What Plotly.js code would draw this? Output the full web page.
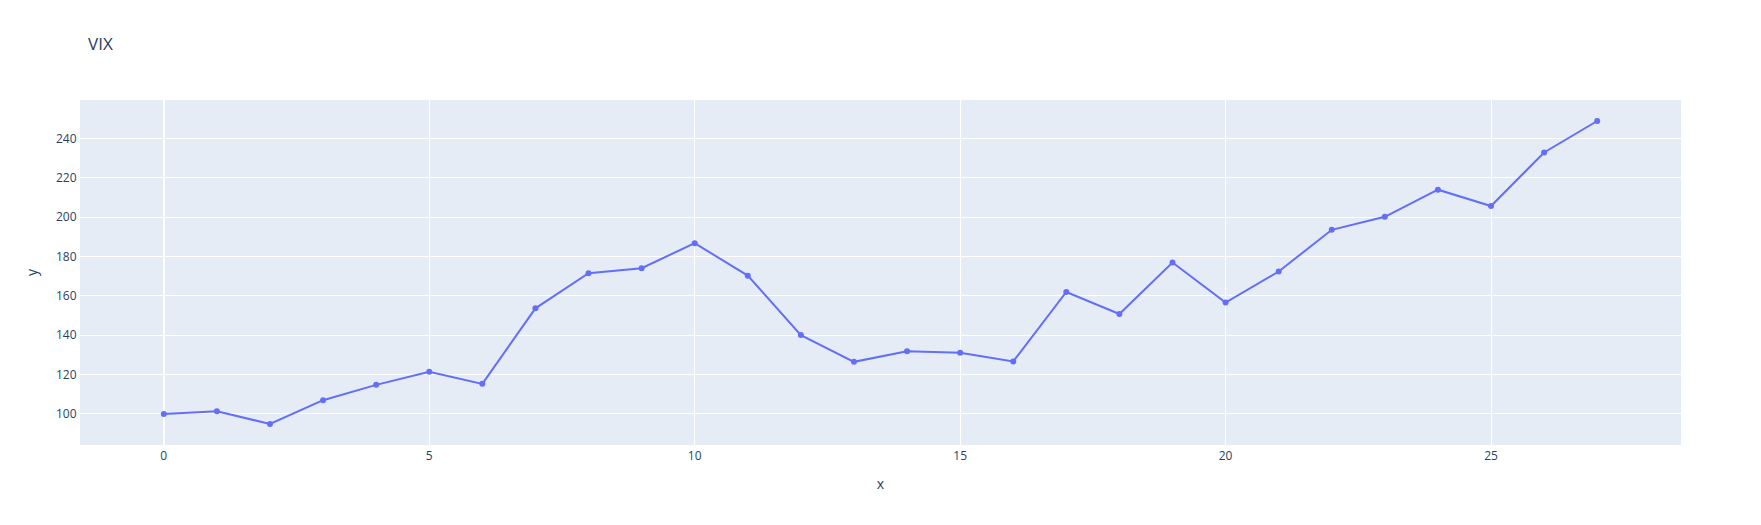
<!DOCTYPE html>
<html>
<head>
<meta charset="utf-8">
<script src="https://cdn.plot.ly/plotly-3.0.1.min.js"></script>
<style>html,body{margin:0;padding:0;background:#fff;}#chart{width:1761px;height:525px;}</style>
</head>
<body>
<div id="chart"></div>
<script>
const xValues = [0,1,2,3,4,5,6,7,8,9,10,11,12,13,14,15,16,17,18,19,20,21,22,23,24,25,26,27];
const vixValues = [100, 101.4, 94.9, 107.0, 114.8, 121.4, 115.3, 153.7, 171.5, 174.1,
  186.8, 170.3, 140.1, 126.5, 131.9, 131.1, 126.7, 162.0, 150.8, 177.0,
  156.6, 172.4, 193.6, 200.2, 214.0, 205.7, 232.9, 248.9];
const chartTitle = "VIX";

const axisStyle = {
  gridcolor: "white", linecolor: "white", zerolinecolor: "white", zerolinewidth: 2,
  ticks: "", automargin: true, title: {standoff: 15}
};

Plotly.newPlot("chart", [{
  x: xValues, y: vixValues, type: "scatter", mode: "lines+markers",
  line: {color: "#636efa", width: 2}, marker: {color: "#636efa", size: 6},
  showlegend: false
}], {
  width: 1761, height: 525,
  title: {text: chartTitle, x: 0.05, font: {size: 17}},
  font: {family: '"Open Sans", verdana, arial, sans-serif', color: "#2a3f5f", size: 12},
  paper_bgcolor: "white", plot_bgcolor: "#E5ECF6",
  margin: {l: 80, r: 80, t: 100, b: 80},
  xaxis: Object.assign({}, axisStyle, {title: {text: "x", standoff: 15}}),
  yaxis: Object.assign({}, axisStyle, {title: {text: "y", standoff: 15}})
}, {displayModeBar: false});
</script>
</body>
</html>
